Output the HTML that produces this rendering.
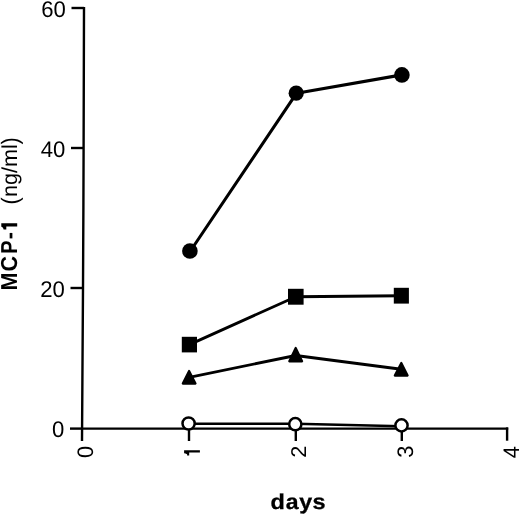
<!DOCTYPE html>
<html><head><meta charset="utf-8">
<style>
html,body{margin:0;padding:0;background:#fff;width:520px;height:516px;overflow:hidden}
svg{display:block;will-change:transform;text-rendering:geometricPrecision}
text{font-family:"Liberation Sans",sans-serif;fill:#000}
</style></head><body>
<svg width="520" height="516" viewBox="0 0 520 516">
<g stroke="#000" stroke-width="2.4" fill="none" stroke-linecap="butt">
<polyline points="84,7 83.6,148 83.4,207 83,288 82.4,380 82,441"/>
<line x1="71.5" y1="8" x2="84" y2="8"/>
<line x1="71" y1="148" x2="83.6" y2="148"/>
<line x1="70.5" y1="288" x2="83" y2="288"/>
<line x1="70" y1="428.6" x2="82" y2="428.6"/>
<line x1="82" y1="428.6" x2="508.2" y2="428.6"/>
<line x1="189" y1="428" x2="189" y2="441"/>
<line x1="295.8" y1="428" x2="295.8" y2="441"/>
<line x1="401.8" y1="428" x2="401.8" y2="441"/>
<line x1="507.1" y1="427.4" x2="507.1" y2="440.7"/>
</g>
<g stroke="#000" stroke-width="2.9" fill="none" stroke-linejoin="round">
<polyline points="190.4,251 296.6,93.2 401.9,74.9" stroke-width="3.1"/>
<polyline points="189.4,344.6 295.8,296.7 401.3,295.7"/>
<polyline points="189.2,377.3 295.7,355.5 401.2,369.2"/>
</g>
<polyline points="188.6,423.7 295.3,423.8 401.5,426.3" stroke="#000" stroke-width="2.4" fill="none"/>
<g fill="#000">
<circle cx="189.9" cy="251" r="7.8"/>
<circle cx="296.2" cy="93.2" r="7.6"/>
<circle cx="401.9" cy="74.9" r="7.8"/>
<rect x="181.8" y="336.8" width="15.2" height="15.6"/>
<rect x="288" y="288.8" width="15.6" height="15.9"/>
<rect x="393.8" y="287.8" width="15.1" height="15.8"/>
<g stroke="#000" stroke-width="2.2" stroke-linejoin="round">
<polygon points="189.1,371 195.5,383.6 182.8,383.6"/>
<polygon points="295.7,348 302.1,361.3 289.3,361.3"/>
<polygon points="401.3,363 407.6,375.6 394.8,375.6"/>
</g>
</g>
<g fill="#fff" stroke="#000" stroke-width="2.5">
<circle cx="188.6" cy="423.5" r="6.1"/>
<circle cx="295.3" cy="424.2" r="6.1"/>
<circle cx="401.5" cy="425.4" r="6.1"/>
</g>
<g font-size="22.7" text-anchor="end">
<text transform="translate(65.8,17) scale(0.975,1)">60</text>
<text transform="translate(65.4,157) scale(0.975,1)">40</text>
<text transform="translate(64.8,297) scale(0.975,1)">20</text>
<text transform="translate(64.2,437.1) scale(0.975,1)">0</text>
</g>
<g font-size="21.8" text-anchor="middle">
<text transform="translate(92.8,452) rotate(-90) scale(1,1.03)">0</text>
<text transform="translate(306.4,451.8) rotate(-90) scale(1,0.98)">2</text>
<text transform="translate(412.8,451.8) rotate(-90) scale(1,1.03)">3</text>
<text transform="translate(518.6,452.2) rotate(-90) scale(1,1.03)">4</text>
</g>
<path d="M184.1,450.2 L199.9,450.2 L199.9,452.6 L189.2,452.6 L189.2,455.6 L187.1,455.6 L187.1,454.3 L185.5,453.6 L184.1,453.3 Z" fill="#000"/>
<g font-size="21.5" font-weight="bold" text-anchor="middle" stroke="#000" stroke-width="0.3">
<text transform="translate(277.6,509) scale(1.09,1)">d</text>
<text transform="translate(292.2,509) scale(1.07,1)">a</text>
<text transform="translate(305.7,509) scale(1.08,1)">y</text>
<text transform="translate(319,509) scale(1.09,1)">s</text>
</g>
<g font-size="21.6" font-weight="bold" text-anchor="middle">
<text transform="translate(17.1,281.45) rotate(-90) scale(1,1.067)">M</text>
<text transform="translate(17.1,263.6) rotate(-90) scale(1,1.067)">C</text>
<text transform="translate(17.1,247.05) rotate(-90) scale(0.92,1.067)">P</text>
<text transform="translate(17.1,235.75) rotate(-90) scale(1,1.067)">-</text>
</g>
<g font-size="21.6" text-anchor="middle">
<text transform="translate(17.5,200.9) rotate(-90) scale(1,1.1)">(</text>
<text transform="translate(17.2,170.5) rotate(-90)">ng/ml</text>
<text transform="translate(17.5,141) rotate(-90) scale(1,1.1)">)</text>
</g>
<path d="M1.3,223.2 L17.2,223.2 L17.2,226.5 L6.3,226.5 L6.3,229.6 L3.6,229.6 L3.2,228.2 L2.2,227 L1.3,226.7 Z" fill="#000"/>
</svg>
</body></html>
